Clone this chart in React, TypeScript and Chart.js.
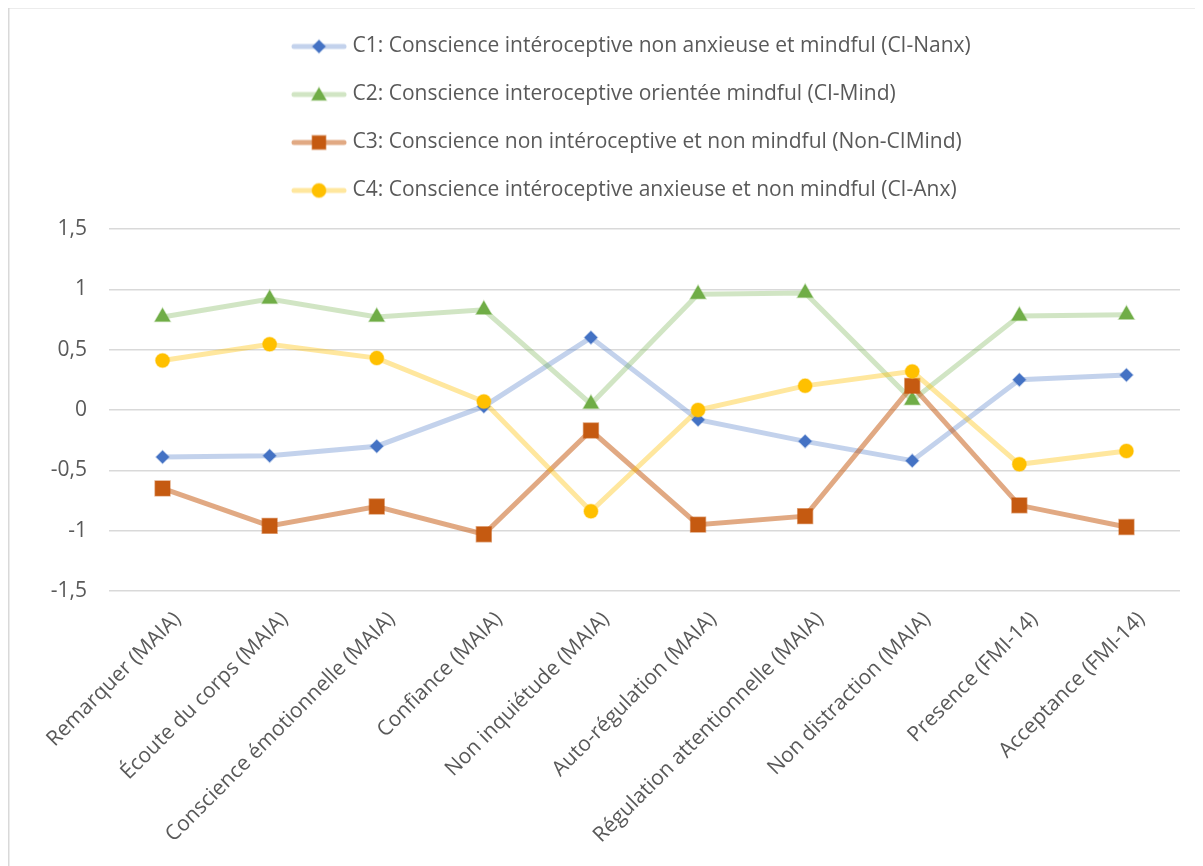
import React, { useEffect, useRef } from 'react';
import { Chart, registerables } from 'chart.js';
import { drawPoint } from 'chart.js/helpers';

Chart.register(...registerables);

const categories = [
  'Remarquer (MAIA)',
  'Écoute du corps (MAIA)',
  'Conscience émotionnelle (MAIA)',
  'Confiance (MAIA)',
  'Non inquiétude (MAIA)',
  'Auto-régulation (MAIA)',
  'Régulation attentionnelle (MAIA)',
  'Non distraction (MAIA)',
  'Presence (FMI-14)',
  'Acceptance (FMI-14)',
];

const seriesLabels = [
  'C1: Conscience intéroceptive non anxieuse et mindful (CI-Nanx)',
  'C2: Conscience interoceptive orientée mindful (CI-Mind)',
  'C3: Conscience non intéroceptive et non mindful (Non-CIMind)',
  'C4: Conscience intéroceptive anxieuse et non mindful (CI-Anx)',
];

const c1Values = [-0.39, -0.38, -0.3, 0.03, 0.6, -0.08, -0.26, -0.42, 0.25, 0.29];
const c2Values = [0.77, 0.92, 0.77, 0.83, 0.05, 0.96, 0.97, 0.08, 0.78, 0.79];
const c3Values = [-0.65, -0.96, -0.8, -1.03, -0.17, -0.95, -0.88, 0.2, -0.79, -0.97];
const c4Values = [0.41, 0.545, 0.43, 0.07, -0.84, 0.0, 0.2, 0.32, -0.45, -0.34];

const yTickValues = [-1.5, -1, -0.5, 0, 0.5, 1, 1.5];
const yTickLabels = ['-1,5', '-1', '-0,5', '0', '0,5', '1', '1,5'];

const FONT = '"Open Sans", sans-serif';
const FONT_SIZE = 21;
const TEXT = '#595959';

const styles = [
  { line: 'rgba(68,114,196,0.32)', marker: '#4472c4', shape: 'rectRot', r: 6.5 },
  { line: 'rgba(112,173,71,0.32)', marker: '#70ad47', shape: 'triangle', r: 9 },
  { line: 'rgba(197,90,17,0.52)', marker: '#c55a11', shape: 'rect', r: 10.5 },
  { line: 'rgba(255,192,0,0.38)', marker: '#ffc000', shape: 'circle', r: 7 },
];

function makeGlyph(i: number): HTMLCanvasElement {
  const s = styles[i];
  const c = document.createElement('canvas');
  c.width = 56;
  c.height = 24;
  const ctx = c.getContext('2d')!;
  ctx.strokeStyle = s.line;
  ctx.lineWidth = 5;
  ctx.lineCap = 'round';
  ctx.beginPath();
  ctx.moveTo(3, 12);
  ctx.lineTo(53, 12);
  ctx.stroke();
  ctx.fillStyle = s.marker;
  ctx.strokeStyle = s.line;
  ctx.lineWidth = 1.5;
  const r = s.shape === 'rect' ? 9.5 : s.shape === 'triangle' ? 8.5 : s.r;
  const cy = s.shape === 'triangle' ? 13.5 : 12;
  drawPoint(ctx, { pointStyle: s.shape as any, radius: r, rotation: 0, borderWidth: 1.5 }, 28, cy);
  return c;
}

export default function App() {
  const ref = useRef<HTMLCanvasElement>(null);

  useEffect(() => {
    document.documentElement.style.overflow = 'hidden';
    document.body.style.overflow = 'hidden';
    const glyphs = [0, 1, 2, 3].map(makeGlyph);
    const values = [c1Values, c2Values, c3Values, c4Values];
    const orders = [4, 3, 2, 1];

    const framePlugin = {
      id: 'frame',
      beforeDraw(chart: any) {
        const ctx = chart.ctx;
        ctx.save();
        ctx.strokeStyle = '#d9d9d9';
        ctx.lineWidth = 1.5;
        ctx.beginPath();
        ctx.moveTo(0.75, chart.height);
        ctx.lineTo(0.75, 0.75);
        ctx.lineTo(chart.width, 0.75);
        ctx.stroke();
        ctx.restore();
      },
    };

    const legendFix = {
      id: 'legendFix',
      beforeLayout(chart: any) {
        const lg = chart.legend;
        if (lg && !lg.__patched) {
          const orig = lg.fit.bind(lg);
          lg.fit = function () {
            orig();
            this.height = 220;
          };
          lg.__patched = true;
        }
      },
      afterLayout(chart: any) {
        if (chart.legend) {
          chart.legend.left = 261;
        }
      },
    };

    const chart = new Chart(ref.current!, {
      type: 'line',
      data: {
        labels: categories,
        datasets: values.map((v, i) => ({
          label: seriesLabels[i],
          data: v,
          order: orders[i],
          borderColor: styles[i].line,
          borderWidth: 5,
          tension: 0,
          fill: false,
          pointStyle: styles[i].shape as any,
          pointRadius: styles[i].r,
          pointHoverRadius: styles[i].r,
          pointBackgroundColor: styles[i].marker,
          pointBorderColor: styles[i].line,
          pointBorderWidth: 1.5,
        })),
      },
      options: {
        animation: false,
        responsive: true,
        maintainAspectRatio: false,
        layout: { padding: { left: 0, right: 23, top: 2, bottom: 0 } },
        plugins: {
          tooltip: { enabled: false },
          legend: {
            position: 'top',
            align: 'start',
            labels: {
              usePointStyle: true,
              pointStyleWidth: 46,
              padding: 27,
              color: TEXT,
              font: { family: FONT, size: FONT_SIZE },
              generateLabels: (ch: any) =>
                ch.data.datasets.map((ds: any, i: number) => ({
                  text: ds.label,
                  fillStyle: 'transparent',
                  strokeStyle: 'transparent',
                  lineWidth: 0,
                  pointStyle: glyphs[i],
                  hidden: false,
                  datasetIndex: i,
                  fontColor: TEXT,
                })),
            },
          },
        },
        scales: {
          x: {
            offset: true,
            grid: { display: false, drawTicks: false },
            border: { display: false },
            ticks: {
              color: TEXT,
              font: { family: FONT, size: FONT_SIZE },
              minRotation: 45,
              maxRotation: 45,
              padding: 16,
              labelOffset: 15,
              autoSkip: false,
            },
            afterFit: (s: any) => {
              s.height = 275;
            },
          },
          y: {
            min: -1.5,
            max: 1.5,
            afterBuildTicks: (s: any) => {
              s.ticks = yTickValues.map((v) => ({ value: v }));
            },
            grid: { color: '#d9d9d9', lineWidth: 1.5, drawTicks: false },
            border: { display: false },
            ticks: {
              color: TEXT,
              font: { family: FONT, size: FONT_SIZE },
              padding: 22,
              callback: (v: any) => {
                const idx = yTickValues.indexOf(Number(v));
                return idx >= 0 ? yTickLabels[idx] : '';
              },
            },
            afterFit: (s: any) => {
              s.width = 101;
            },
          },
        },
      },
      plugins: [framePlugin, legendFix],
    });
    return () => chart.destroy();
  }, []);

  return (
    <div style={{ width: 1195, height: 859, marginTop: -1, position: 'relative' }}>
      <canvas ref={ref} />
    </div>
  );
}
